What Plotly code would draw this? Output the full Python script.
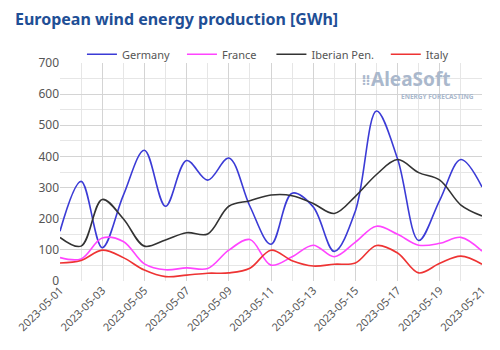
import plotly.graph_objects as go
import pandas as pd

dates = pd.date_range("2023-05-01", "2023-05-21", freq="D")
germany = [160, 320, 107, 275, 420, 240, 387, 324, 395, 240, 118, 282, 238, 95, 225, 546, 392, 130, 260, 390, 302]
france = [75, 71, 138, 127, 55, 36, 42, 40, 99, 133, 51, 78, 115, 78, 125, 176, 150, 115, 121, 140, 96]
iberian = [140, 112, 262, 200, 112, 132, 155, 151, 240, 258, 276, 274, 249, 217, 272, 342, 390, 348, 324, 244, 209]
italy = [58, 66, 99, 75, 35, 14, 19, 25, 26, 41, 99, 65, 48, 54, 58, 114, 90, 26, 57, 80, 54]

series = [
    ("Germany", germany, "#3b3bd6", "legend"),
    ("France", france, "#ff44ff", "legend2"),
    ("Iberian Pen.", iberian, "#333333", "legend3"),
    ("Italy", italy, "#ee3333", "legend4"),
]

fig = go.Figure()
for name, vals, color, lg in series:
    fig.add_trace(go.Scatter(x=dates, y=vals, name=name, mode="lines", showlegend=True,
                             line=dict(color=color, width=1.6, shape="spline", smoothing=1.0),
                             legend=lg))

font = "Noto Sans"
legend_common = dict(orientation="h", yanchor="middle", y=1.04, xanchor="left",
                     bgcolor="rgba(0,0,0,0)", font=dict(family=font, size=11, color="#555555"),
                     itemwidth=30, tracegroupgap=0, visible=True)
lx = [0.052, 0.289, 0.501, 0.772]
fig.update_layout(
    showlegend=True,
    legend=dict(x=lx[0], **legend_common),
    legend2=dict(x=lx[1], **legend_common),
    legend3=dict(x=lx[2], **legend_common),
    legend4=dict(x=lx[3], **legend_common),
)

fig.update_layout(
    width=500, height=350,
    margin=dict(l=60, r=15, t=63, b=69),
    paper_bgcolor="white", plot_bgcolor="white",
    title=dict(text="<b>European wind energy production [GWh]</b>", x=0.03, xanchor="left",
               y=0.945, yanchor="middle",
               font=dict(family=font, size=16, color="#1f4f96")),
    xaxis=dict(type="date", range=[dates[0], dates[-1]], dtick=2 * 86400000, tick0=dates[0],
               tickformat="%Y-%m-%d", tickangle=-45, showgrid=True, gridcolor="#d4d4d4",
               gridwidth=1, minor=dict(dtick=86400000, showgrid=True, gridcolor="#e6e6e6"),
               tickfont=dict(family=font, size=11, color="#555555"), ticks="",
               zeroline=False, showline=False),
    yaxis=dict(range=[0, 700], dtick=100, showgrid=True, gridcolor="#d4d4d4", gridwidth=1,
               minor=dict(dtick=50, showgrid=True, gridcolor="#e6e6e6"),
               tickfont=dict(family=font, size=12, color="#555555"), ticks="",
               zeroline=False, showline=False),
)

fig.add_annotation(xref="paper", yref="paper", x=0.93, y=0.995, xanchor="right", yanchor="top",
                   text="<b>AleaSoft</b>", showarrow=False,
                   font=dict(family=font, size=19, color="#aab8cc"))
fig.add_annotation(xref="paper", yref="paper", x=0.985, y=0.875, xanchor="right", yanchor="top",
                   text="<b>ENERGY FORECASTING</b>", showarrow=False,
                   font=dict(family=font, size=6.5, color="#aab8cc"))
fig.add_annotation(xref="paper", yref="paper", x=0.74, y=0.975, xanchor="right", yanchor="top",
                   text="<b>⁞⁞</b>", showarrow=False,
                   font=dict(family=font, size=14, color="#aab8cc"))

fig.write_html("out.html")
